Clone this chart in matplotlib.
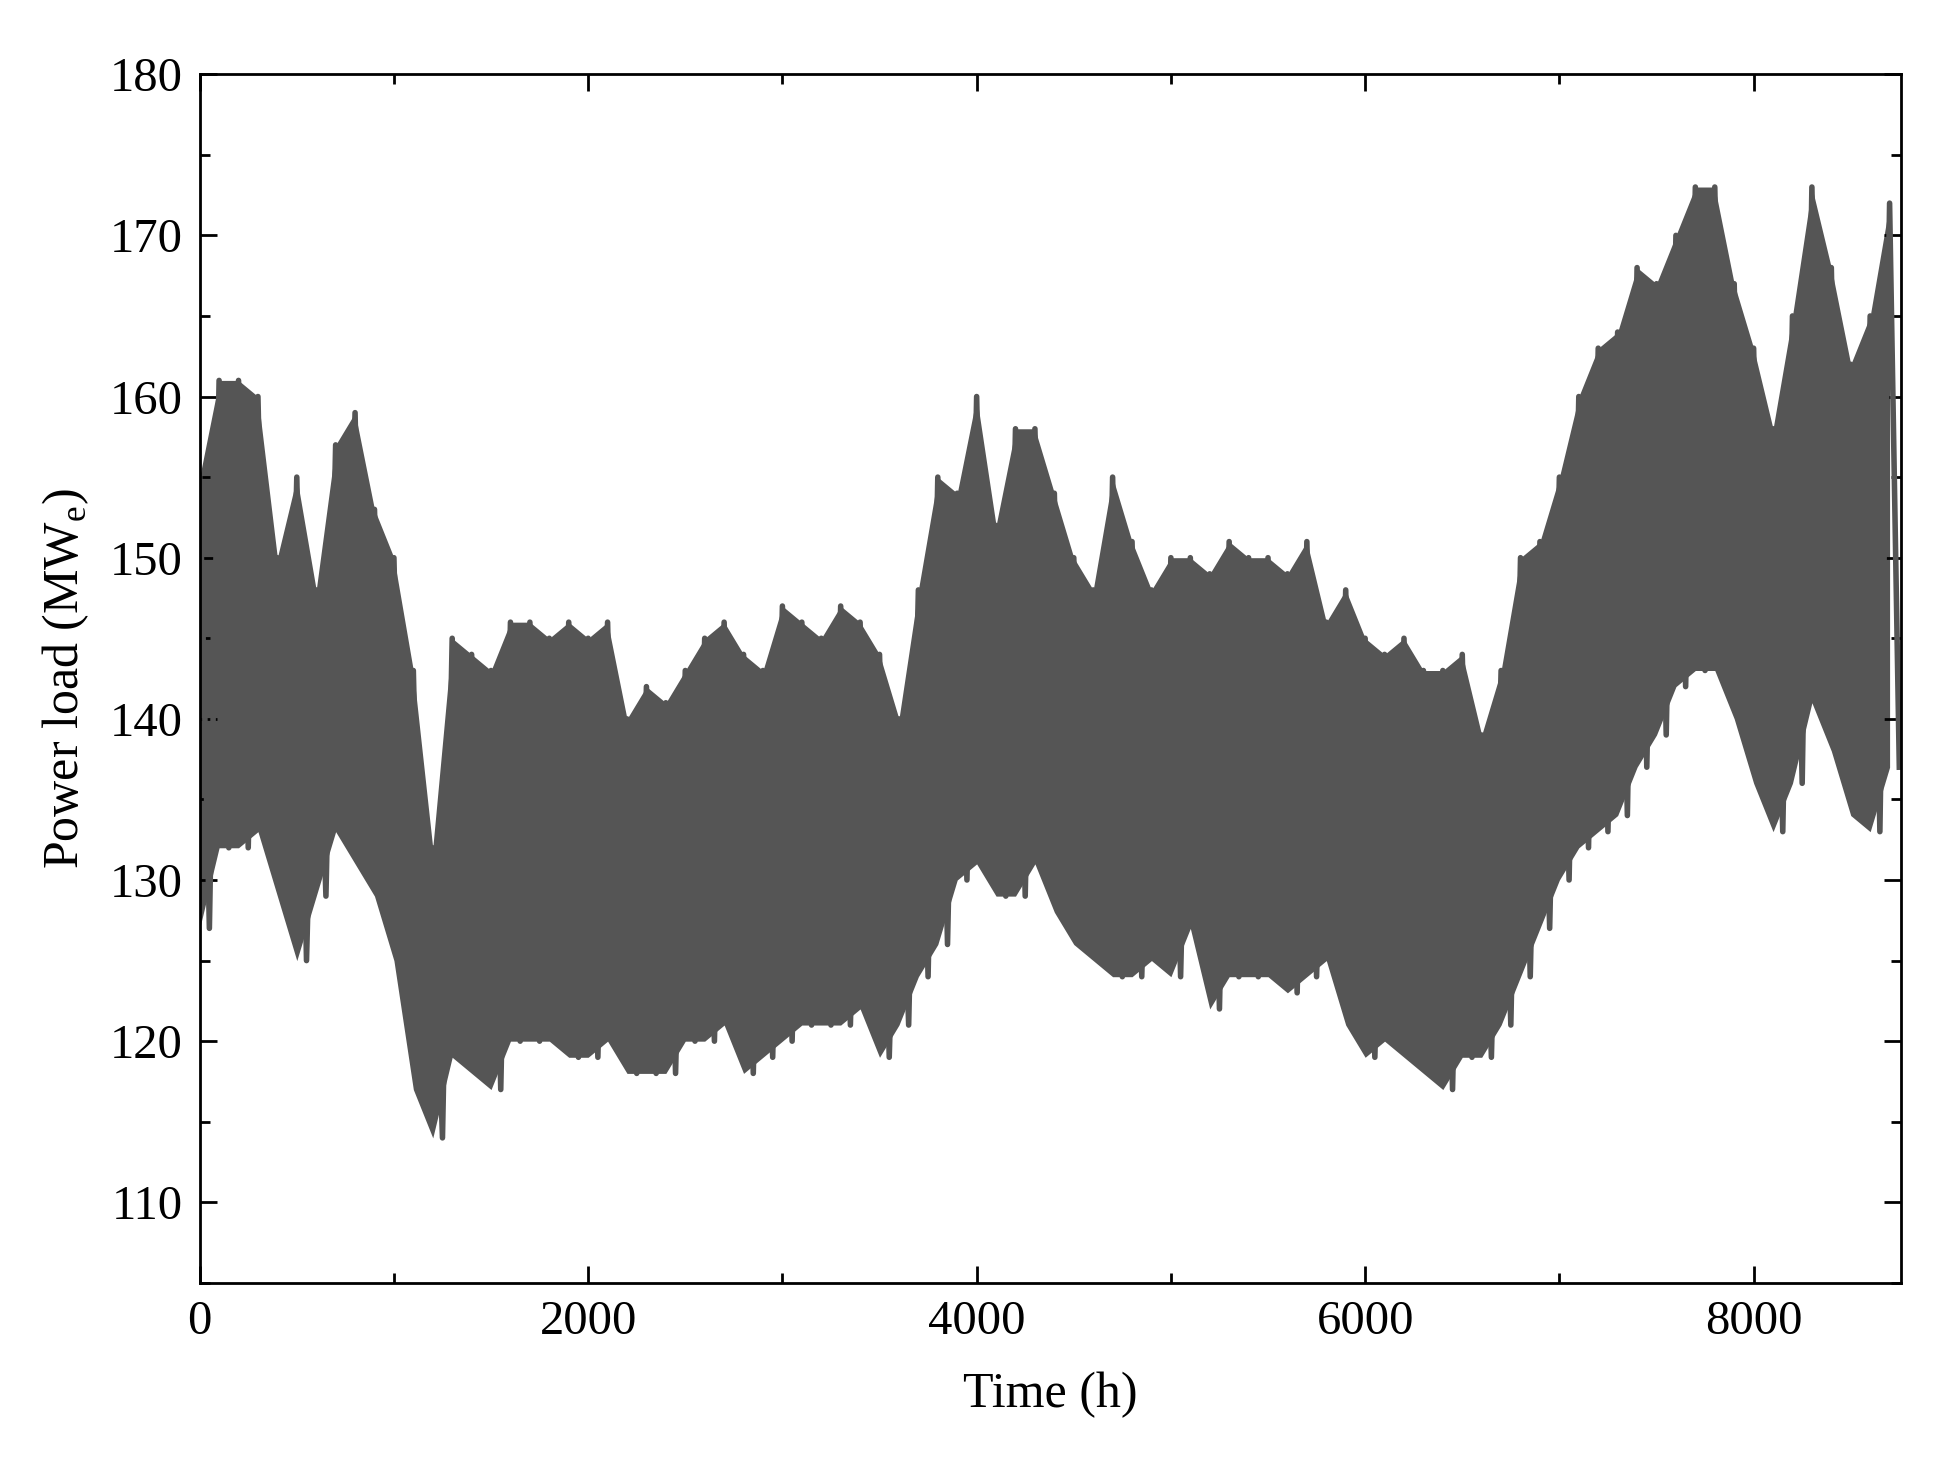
import matplotlib
matplotlib.use("Agg")
import matplotlib.pyplot as plt
import numpy as np

time_h = list(range(0, 8800, 100))
upper = [155,161,161,160,150,155,148,157,159,153,150,143,132,145,144,143,146,146,145,146,
         145,146,140,142,141,143,145,146,144,143,147,146,145,147,146,144,140,148,155,154,
         160,152,158,158,154,150,148,155,151,148,150,150,149,151,150,150,149,151,146,148,
         145,144,145,143,143,144,139,143,150,151,155,160,163,164,168,167,170,173,173,167,
         163,158,165,173,168,162,165,172]
lower = [127,132,132,133,129,125,129,133,131,129,125,117,114,119,118,117,120,120,120,119,
         119,120,118,118,118,120,120,121,118,119,120,121,121,121,122,119,121,124,126,130,
         131,129,129,131,128,126,125,124,124,125,124,127,122,124,124,124,123,124,125,121,
         119,120,119,118,117,119,119,121,124,127,130,132,133,134,137,139,142,143,143,140,
         136,133,136,141,138,134,133,137]

plt.rcParams['font.family'] = ['Liberation Serif', 'DejaVu Serif']
fig = plt.figure(figsize=(19.48, 14.84), dpi=100)
ax = fig.add_axes([0.1025, 0.1355, 0.8735, 0.8145])
col = '#555555'
t = np.array(time_h, dtype=float)
up = np.array(upper, dtype=float)
lo = np.array(lower, dtype=float)
ax.fill_between(t, up, lo, color=col, lw=0)
zx = np.empty(2 * len(t)); zy = np.empty(2 * len(t))
zx[0::2] = t; zx[1::2] = t + 50
zy[0::2] = up; zy[1::2] = lo
ax.plot(zx, zy, color=col, lw=4)
ax.set_xlim(0, 8760)
ax.set_ylim(105, 180)
ax.set_xticks([0, 2000, 4000, 6000, 8000])
ax.set_yticks([110, 120, 130, 140, 150, 160, 170, 180])
ax.set_xticks(np.arange(1000, 8760, 2000), minor=True)
ax.set_yticks(np.arange(105, 180, 10), minor=True)
ax.tick_params(which='both', direction='in', top=True, right=True, width=2, labelsize=35, pad=12)
ax.tick_params(which='major', length=12)
ax.tick_params(which='minor', length=7)
for s in ax.spines.values():
    s.set_linewidth(2)
ax.set_xlabel('Time (h)', fontsize=36, labelpad=20)
ax.set_ylabel('Power load (MW$_\\mathregular{e}$)', fontsize=36, labelpad=14)
fig.savefig('out.png', dpi=100)
